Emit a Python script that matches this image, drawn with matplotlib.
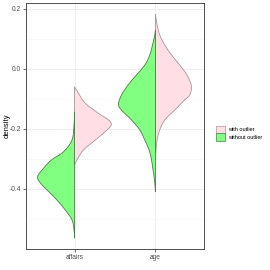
import matplotlib
matplotlib.use("Agg")
import matplotlib.pyplot as plt
from matplotlib.patches import Patch, PathPatch
from matplotlib.path import Path
from matplotlib.ticker import MultipleLocator

plt.rcParams['axes.unicode_minus'] = False
plt.rcParams['font.family'] = ['Liberation Sans', 'DejaVu Sans']

# Категории по оси X
categories = ['affairs', 'age']
groups = ['with outlier', 'without outlier']

# Профили половин скрипок: значения по Y и полуширина (в единицах оси X)
affairs_with_y = [-0.059, -0.081, -0.114, -0.148, -0.170, -0.187, -0.209, -0.237, -0.270, -0.303, -0.320]
affairs_with_w = [0.0, 0.049, 0.132, 0.296, 0.420, 0.453, 0.379, 0.256, 0.111, 0.030, 0.0]

affairs_without_y = [-0.143, -0.187, -0.237, -0.276, -0.303, -0.331, -0.359, -0.381, -0.403, -0.437, -0.470, -0.503, -0.537, -0.564]
affairs_without_w = [0.0, 0.006, 0.032, 0.136, 0.284, 0.383, 0.457, 0.420, 0.341, 0.217, 0.115, 0.032, 0.006, 0.0]

age_with_y = [0.182, 0.147, 0.113, 0.080, 0.047, 0.013, -0.020, -0.057, -0.087, -0.103, -0.137, -0.170, -0.203, -0.237, -0.270, -0.303]
age_with_w = [0.0, 0.020, 0.053, 0.115, 0.198, 0.300, 0.390, 0.444, 0.423, 0.362, 0.238, 0.115, 0.053, 0.020, 0.007, 0.0]

age_without_y = [0.130, 0.102, 0.047, 0.013, -0.020, -0.053, -0.087, -0.117, -0.137, -0.170, -0.203, -0.237, -0.270, -0.303, -0.337, -0.370, -0.409]
age_without_w = [0.0, 0.017, 0.070, 0.132, 0.235, 0.338, 0.420, 0.457, 0.420, 0.296, 0.194, 0.132, 0.079, 0.049, 0.030, 0.012, 0.0]

pink_fill = '#FFDFE5'
pink_edge = '#A89497'
green_fill = '#80FF80'
green_edge = '#4D7A4D'

fig = plt.figure(figsize=(2.7, 2.7), dpi=100)
ax = fig.add_axes([0.0963, 0.078, 0.6593, 0.911])

def smooth_path(xs, ys):
    # кривые Безье через точки (Catmull-Rom) - только сглаживание контура
    verts = [(xs[0], ys[0])]
    codes = [Path.MOVETO]
    n = len(xs)
    for i in range(n - 1):
        x0, y0 = (xs[i - 1], ys[i - 1]) if i > 0 else (xs[i], ys[i])
        x1, y1 = xs[i], ys[i]
        x2, y2 = xs[i + 1], ys[i + 1]
        x3, y3 = (xs[i + 2], ys[i + 2]) if i + 2 < n else (x2, y2)
        verts += [(x1 + (x2 - x0) / 6, y1 + (y2 - y0) / 6),
                  (x2 - (x3 - x1) / 6, y2 - (y3 - y1) / 6),
                  (x2, y2)]
        codes += [Path.CURVE4] * 3
    return verts, codes

def half_violin(x0, ys, ws, side, fc, ec):
    xs = [x0 + side * w for w in ws]
    verts, codes = smooth_path(xs, ys)
    verts += [(x0, ys[0]), (x0, ys[0])]
    codes += [Path.LINETO, Path.CLOSEPOLY]
    ax.add_patch(PathPatch(Path(verts, codes), facecolor=fc, edgecolor=ec, lw=0.6, zorder=3))

half_violin(1, affairs_with_y, affairs_with_w, 1, pink_fill, pink_edge)
half_violin(1, affairs_without_y, affairs_without_w, -1, green_fill, green_edge)
half_violin(2, age_with_y, age_with_w, 1, pink_fill, pink_edge)
half_violin(2, age_without_y, age_without_w, -1, green_fill, green_edge)

ax.set_xlim(0.4, 2.6)
ax.set_ylim(-0.6, 0.22)
ax.set_xticks([1, 2])
ax.set_xticklabels(categories)
ax.yaxis.set_minor_locator(MultipleLocator(0.1))
ax.set_yticks([-0.4, -0.2, 0.0, 0.2])
ax.set_yticklabels(['-0.4', '-0.2', '0.0', '0.2'])

ax.grid(which='major', color='#EBEBEB', lw=0.6, zorder=0)
ax.grid(which='minor', axis='y', color='#F4F4F4', lw=0.4, zorder=0)
ax.set_axisbelow(True)
ax.tick_params(which='major', length=2, width=0.5, color='#333333', labelsize=4.8, labelcolor='#4D4D4D', pad=1.5)
ax.tick_params(which='minor', length=0)
for s in ax.spines.values():
    s.set_color('#333333')
    s.set_linewidth(0.6)

ax.set_ylabel('density', fontsize=5.5)
ax.yaxis.set_label_coords(-0.088, 0.5)

handles = [Patch(facecolor=pink_fill, edgecolor=pink_edge, lw=0.5),
           Patch(facecolor=green_fill, edgecolor=green_edge, lw=0.5)]
fig.legend(handles, groups, loc='center left', bbox_to_anchor=(0.793, 0.507),
           frameon=False, fontsize=4.0, handlelength=1.6, handleheight=1.7,
           handletextpad=0.5, labelspacing=0.0, borderaxespad=0)

fig.savefig('out.png', dpi=100)
